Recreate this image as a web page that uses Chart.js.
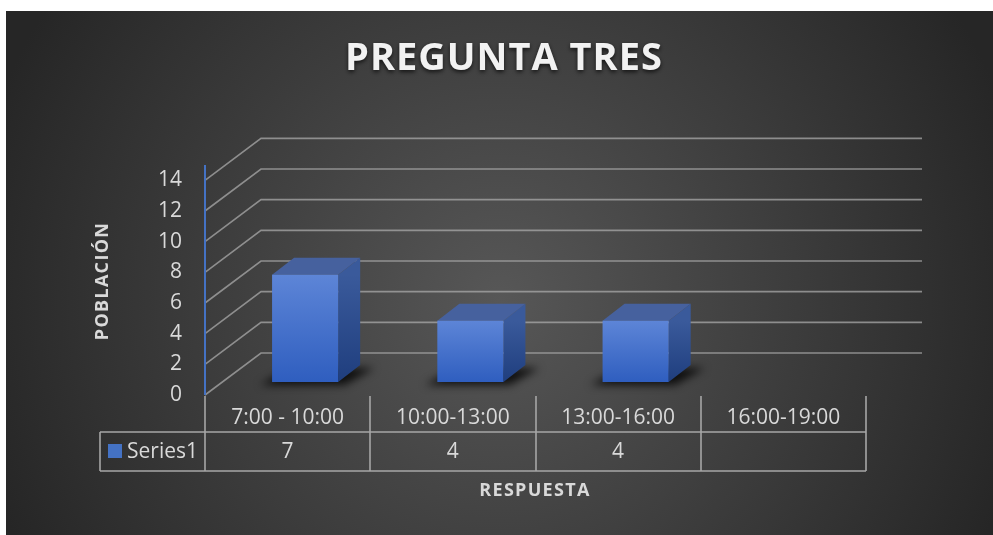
<!DOCTYPE html>
<html>
<head>
<meta charset="utf-8">
<script src="https://cdn.jsdelivr.net/npm/chart.js@4"></script>
<style>
  html, body { margin: 0; padding: 0; background: #fff; }
  canvas { display: block; }
</style>
</head>
<body>
<canvas id="preguntaChart" width="993" height="535"></canvas>
<script>
// data
const categories = ['7:00 - 10:00', '10:00-13:00', '13:00-16:00', '16:00-19:00'];
const series1 = [7, 4, 4, null];
const yTicks = [0, 2, 4, 6, 8, 10, 12, 14];

const FONT = '"Open Sans", "Noto Sans", sans-serif';
const TEXT = '#d9d9d9';

// 3d offsets: back wall depth, bar front plane, bar depth
const WALL = { dx: 56, dy: -42 };
const BAR_FRONT = { dx: 17.5, dy: -13 };
const BAR_DEPTH = { dx: 22, dy: -17 };

const backdrop = {
    id: 'backdrop',
    beforeDraw(chart) {
        const ctx = chart.ctx;
        const { width, height } = chart;
        ctx.save();
        ctx.fillStyle = '#fff';
        ctx.fillRect(0, 0, width, height);
        const g = ctx.createRadialGradient(500, 300, 0, 500, 300, 540);
        g.addColorStop(0, '#575757');
        g.addColorStop(1, '#262626');
        ctx.fillStyle = g;
        ctx.fillRect(6, 11, width - 6, height - 11);

        // title
        ctx.font = 'bold 38px ' + FONT;
        ctx.textAlign = 'center';
        ctx.textBaseline = 'middle';
        ctx.letterSpacing = '1px';
        ctx.shadowColor = 'rgba(0,0,0,0.7)';
        ctx.shadowBlur = 4;
        ctx.shadowOffsetY = 2;
        ctx.fillStyle = '#f2f2f2';
        ctx.fillText('PREGUNTA TRES', 504, 59);
        ctx.restore();

        const y = chart.scales.y;
        const area = chart.chartArea;
        ctx.save();
        // back wall gridlines
        ctx.strokeStyle = 'rgba(170,170,170,0.75)';
        ctx.lineWidth = 1.6;
        yTicks.forEach(t => {
            const py = y.getPixelForValue(t);
            ctx.beginPath();
            ctx.moveTo(area.left, py);
            ctx.lineTo(area.left + WALL.dx, py + WALL.dy);
            ctx.lineTo(area.right + WALL.dx, py + WALL.dy);
            ctx.stroke();
        });
        // value axis
        ctx.strokeStyle = '#4472c4';
        ctx.lineWidth = 2;
        ctx.beginPath();
        ctx.moveTo(area.left, area.top);
        ctx.lineTo(area.left, y.getPixelForValue(0));
        ctx.stroke();
        ctx.font = '21px ' + FONT;
        ctx.fillStyle = TEXT;
        ctx.textAlign = 'right';
        ctx.textBaseline = 'middle';
        yTicks.forEach(t => ctx.fillText(String(t), 182, y.getPixelForValue(t)));
        ctx.restore();
    }
};

const bars3d = {
    id: 'bars3d',
    afterDatasetsDraw(chart) {
        const ctx = chart.ctx;
        const meta = chart.getDatasetMeta(0);
        meta.data.forEach((el, i) => {
            if (series1[i] == null) return;
            const l = el.x - el.width / 2 + BAR_FRONT.dx;
            const r = el.x + el.width / 2 + BAR_FRONT.dx;
            const t = el.y + BAR_FRONT.dy;
            const b = el.base + BAR_FRONT.dy;
            const dx = BAR_DEPTH.dx, dy = BAR_DEPTH.dy;
            ctx.save();
            // floor shadow
            ctx.filter = 'blur(4px)';
            ctx.fillStyle = 'rgba(0,0,0,0.8)';
            ctx.beginPath();
            ctx.moveTo(l - 12, b + 3);
            ctx.lineTo(r + 6, b + 3);
            ctx.lineTo(r + dx + 14, b + dy + 3);
            ctx.lineTo(l + dx - 4, b + dy + 3);
            ctx.closePath();
            ctx.fill();
            ctx.filter = 'none';
            // right side
            const gs = ctx.createLinearGradient(0, t, 0, b);
            gs.addColorStop(0, '#3a5a9b');
            gs.addColorStop(1, '#1f3e7e');
            ctx.fillStyle = gs;
            ctx.beginPath();
            ctx.moveTo(r, t);
            ctx.lineTo(r + dx, t + dy);
            ctx.lineTo(r + dx, b + dy);
            ctx.lineTo(r, b);
            ctx.closePath();
            ctx.fill();
            // top
            ctx.fillStyle = '#46619e';
            ctx.beginPath();
            ctx.moveTo(l, t);
            ctx.lineTo(l + dx, t + dy);
            ctx.lineTo(r + dx, t + dy);
            ctx.lineTo(r, t);
            ctx.closePath();
            ctx.fill();
            // front
            const gf = ctx.createLinearGradient(0, t, 0, b);
            gf.addColorStop(0, '#5d85d7');
            gf.addColorStop(1, '#2f5ebf');
            ctx.fillStyle = gf;
            ctx.fillRect(l, t, r - l, b - t);
            ctx.restore();
        });
    }
};

const dataTable = {
    id: 'dataTable',
    afterDraw(chart) {
        const ctx = chart.ctx;
        const x = chart.scales.x;
        const area = chart.chartArea;
        const top = area.bottom + 1, mid = 432, bottom = 471, leftBox = 100;
        ctx.save();
        ctx.strokeStyle = '#a6a6a6';
        ctx.lineWidth = 1.6;
        ctx.beginPath();
        for (let i = 0; i <= categories.length; i++) {
            const px = Math.round(x.getPixelForValue(i - 0.5));
            ctx.moveTo(px, top);
            ctx.lineTo(px, bottom);
        }
        ctx.moveTo(leftBox, mid);
        ctx.lineTo(area.right, mid);
        ctx.moveTo(leftBox, bottom);
        ctx.lineTo(area.right, bottom);
        ctx.moveTo(leftBox, mid);
        ctx.lineTo(leftBox, bottom);
        ctx.stroke();

        ctx.font = '21px ' + FONT;
        ctx.fillStyle = TEXT;
        ctx.textAlign = 'center';
        ctx.textBaseline = 'middle';
        categories.forEach((c, i) => {
            const px = x.getPixelForValue(i);
            ctx.fillText(c, px, 418);
            if (series1[i] != null) ctx.fillText(String(series1[i]), px, 452);
        });
        // legend key
        ctx.fillStyle = '#4472c4';
        ctx.fillRect(108, 444, 14, 14);
        ctx.fillStyle = TEXT;
        ctx.textAlign = 'left';
        ctx.fillText('Series1', 127, 452);

        // axis titles
        ctx.font = 'bold 18px ' + FONT;
        ctx.letterSpacing = '1.3px';
        ctx.textAlign = 'center';
        ctx.fillText('RESPUESTA', 535, 491);
        ctx.translate(103, 281);
        ctx.rotate(-Math.PI / 2);
        ctx.fillText('POBLACIÓN', 0, 0);
        ctx.restore();
    }
};

const ctx1 = document.getElementById('preguntaChart').getContext('2d');
const preguntaChart = new Chart(ctx1, {
    type: 'bar',
    data: {
        labels: categories,
        datasets: [{
            label: 'Series1',
            data: series1,
            backgroundColor: 'rgba(0,0,0,0)',
            barPercentage: 0.4,
            categoryPercentage: 1
        }]
    },
    options: {
        responsive: false,
        animation: false,
        layout: {
            padding: { left: 205, right: 127, top: 165, bottom: 140 }
        },
        plugins: {
            legend: { display: false },
            tooltip: { enabled: false }
        },
        scales: {
            x: { display: false },
            y: { display: false, min: 0, max: 15 }
        }
    },
    plugins: [backdrop, bars3d, dataTable]
});
</script>
</body>
</html>
